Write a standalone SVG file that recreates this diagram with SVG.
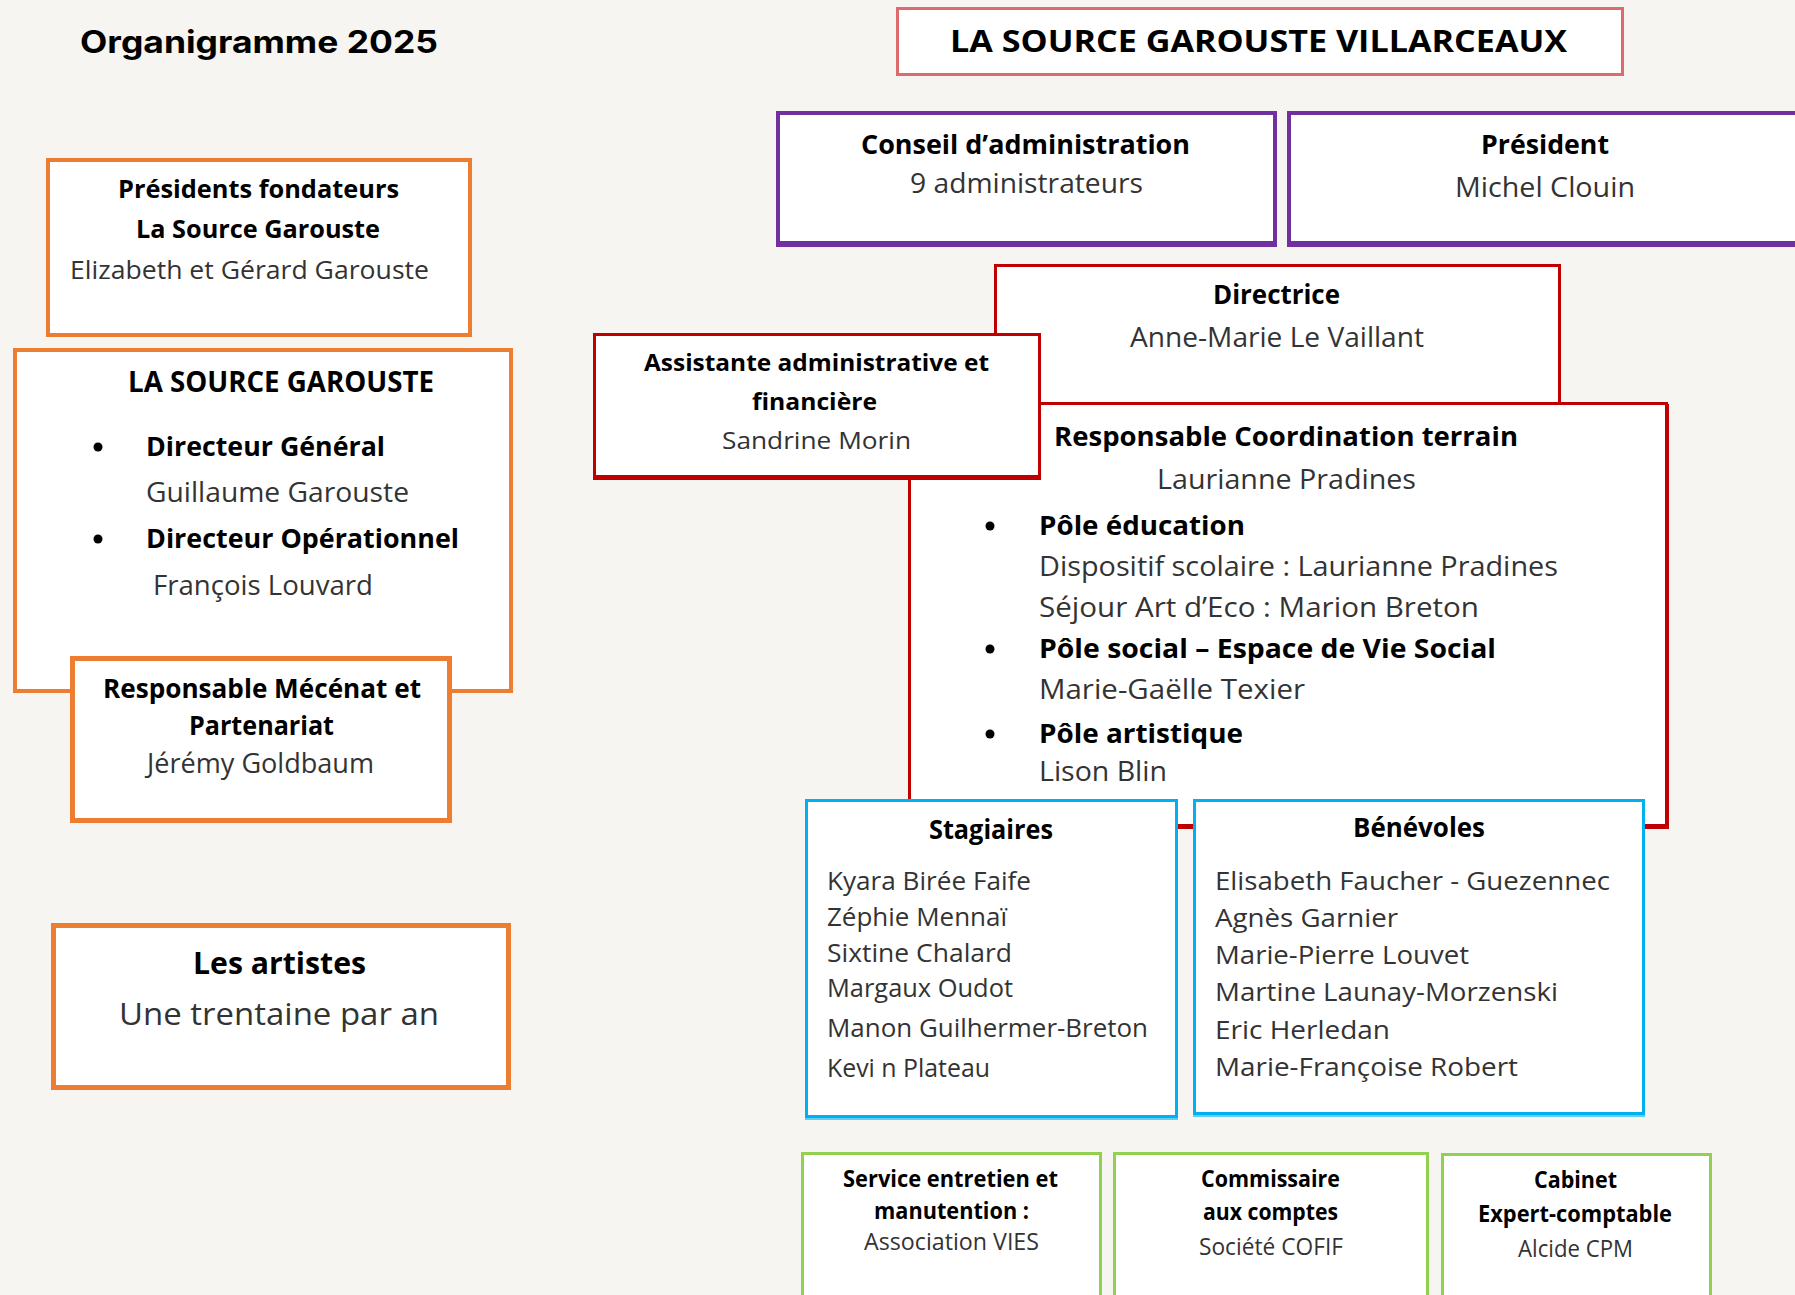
<svg xmlns="http://www.w3.org/2000/svg" width="1795" height="1295" viewBox="0 0 1795 1295">
<style>
.bg{fill:#f6f5f1}
.box{fill:#fff}
.or{stroke:#ed7d31;stroke-width:4}
.or5{stroke:#ed7d31;stroke-width:5}
.pu{stroke:#7030a0;stroke-width:4}
.rd{stroke:#c00000;stroke-width:3}
.pk{stroke:#dd6b6e;stroke-width:3}
.bl{stroke:#00b0f0;stroke-width:3}
.gr{stroke:#92d050;stroke-width:3}
.sh-pu{fill:none;stroke:#7030a0;stroke-width:4}
.sh-rd{fill:none;stroke:#c00000;stroke-width:3}
.sh-bl{fill:none;stroke:#5fcdf5;stroke-width:3}
text{font-family:"Open Sans","Noto Sans","Liberation Sans",sans-serif;fill:#333}
.b{font-weight:700;fill:#000}
.t{font-family:Inter,"DejaVu Sans",sans-serif;font-weight:700;font-size:31px;fill:#000}
.s23{font-size:23px}.s24{font-size:24px}.s25{font-size:25px}.s26{font-size:26px}.s27{font-size:27px}.s28{font-size:28px}.s30{font-size:30px}.s31{font-size:31px}
.dot{fill:#000}
</style>
<rect class="bg" x="0" y="0" width="1795" height="1295"/>

<text class="t" x="80" y="53" textLength="358" lengthAdjust="spacingAndGlyphs">Organigramme 2025</text>

<g id="connectors"></g>

<g id="villarceaux">
<rect class="box pk" x="897.5" y="8.5" width="725" height="66"/>
<text class="b s30" x="950" y="52" textLength="617" lengthAdjust="spacingAndGlyphs">LA SOURCE GAROUSTE VILLARCEAUX</text>
</g>

<g id="presidents-fondateurs">
<rect class="box or" x="48" y="160" width="422" height="175"/>
<text class="b s25" x="118" y="198" textLength="281" lengthAdjust="spacingAndGlyphs">Présidents fondateurs</text>
<text class="b s25" x="136" y="238" textLength="244" lengthAdjust="spacingAndGlyphs">La Source Garouste</text>
<text class="s25" x="70" y="279" textLength="359" lengthAdjust="spacingAndGlyphs">Elizabeth et Gérard Garouste</text>
</g>

<g id="la-source-garouste">
<rect class="box or" x="15" y="350" width="496" height="341"/>
<text class="b s28" x="128" y="392" textLength="306" lengthAdjust="spacingAndGlyphs">LA SOURCE GAROUSTE</text>
<circle class="dot" cx="98" cy="447" r="4.5"/>
<text class="b s27" x="146" y="456" textLength="239" lengthAdjust="spacingAndGlyphs">Directeur Général</text>
<text class="s27" x="146" y="502" textLength="263" lengthAdjust="spacingAndGlyphs">Guillaume Garouste</text>
<circle class="dot" cx="98" cy="539" r="4.5"/>
<text class="b s27" x="146" y="548" textLength="313" lengthAdjust="spacingAndGlyphs">Directeur Opérationnel</text>
<text class="s27" x="153" y="595" textLength="220" lengthAdjust="spacingAndGlyphs">François Louvard</text>
</g>

<g id="mecenat">
<rect class="box or5" x="72.5" y="658.5" width="377" height="162"/>
<text class="b s27" x="103" y="698" textLength="318" lengthAdjust="spacingAndGlyphs">Responsable Mécénat et</text>
<text class="b s27" x="189" y="735" textLength="145" lengthAdjust="spacingAndGlyphs">Partenariat</text>
<text class="s27" x="147" y="773" textLength="227" lengthAdjust="spacingAndGlyphs">Jérémy Goldbaum</text>
</g>

<g id="artistes">
<rect class="box or5" x="53.5" y="925.5" width="455" height="162"/>
<text class="b s30" x="193" y="974" textLength="173" lengthAdjust="spacingAndGlyphs">Les artistes</text>
<text class="s31" x="119" y="1025" textLength="320" lengthAdjust="spacingAndGlyphs">Une trentaine par an</text>
</g>

<g id="conseil">
<rect class="sh-pu" x="778" y="115" width="497" height="130"/>
<rect class="box pu" x="778" y="113" width="497" height="130"/>
<text class="b s27" x="861" y="154" textLength="329" lengthAdjust="spacingAndGlyphs">Conseil d’administration</text>
<text class="s27" x="910" y="193" textLength="233" lengthAdjust="spacingAndGlyphs">9 administrateurs</text>
</g>

<g id="president">
<rect class="sh-pu" x="1289" y="115" width="520" height="130"/>
<rect class="box pu" x="1289" y="113" width="520" height="130"/>
<text class="b s27" x="1481" y="154" textLength="128" lengthAdjust="spacingAndGlyphs">Président</text>
<text class="s27" x="1455" y="197" textLength="180" lengthAdjust="spacingAndGlyphs">Michel Clouin</text>
</g>

<g id="directrice">
<rect class="box rd" x="995.5" y="265.5" width="564" height="170"/>
<text class="b s26" x="1213" y="304" textLength="127" lengthAdjust="spacingAndGlyphs">Directrice</text>
<text class="s27" x="1130" y="347" textLength="294" lengthAdjust="spacingAndGlyphs">Anne-Marie Le Vaillant</text>
</g>

<g id="coordination">
<rect class="sh-rd" x="910.5" y="405.5" width="757" height="422"/>
<rect class="box rd" x="909.5" y="403.5" width="757" height="422"/>
<text class="b s27" x="1054" y="446" textLength="464" lengthAdjust="spacingAndGlyphs">Responsable Coordination terrain</text>
<text class="s27" x="1157" y="489" textLength="259" lengthAdjust="spacingAndGlyphs">Laurianne Pradines</text>
<circle class="dot" cx="990" cy="526" r="4.5"/>
<text class="b s27" x="1039" y="535" textLength="206" lengthAdjust="spacingAndGlyphs">Pôle éducation</text>
<text class="s27" x="1039" y="576" textLength="519" lengthAdjust="spacingAndGlyphs">Dispositif scolaire : Laurianne Pradines</text>
<text class="s27" x="1039" y="617" textLength="440" lengthAdjust="spacingAndGlyphs">Séjour Art d’Eco : Marion Breton</text>
<circle class="dot" cx="990" cy="649" r="4.5"/>
<text class="b s27" x="1039" y="658" textLength="457" lengthAdjust="spacingAndGlyphs">Pôle social – Espace de Vie Social</text>
<text class="s27" x="1039" y="699" textLength="266" lengthAdjust="spacingAndGlyphs">Marie-Gaëlle Texier</text>
<circle class="dot" cx="990" cy="734" r="4.5"/>
<text class="b s27" x="1039" y="743" textLength="204" lengthAdjust="spacingAndGlyphs">Pôle artistique</text>
<text class="s27" x="1039" y="781" textLength="128" lengthAdjust="spacingAndGlyphs">Lison Blin</text>
</g>

<g id="assistante">
<rect class="sh-rd" x="594.5" y="336.5" width="445" height="142"/>
<rect class="box rd" x="594.5" y="334.5" width="445" height="142"/>
<text class="b s24" x="644" y="371" textLength="345" lengthAdjust="spacingAndGlyphs">Assistante administrative et</text>
<text class="b s24" x="752" y="410" textLength="125" lengthAdjust="spacingAndGlyphs">financière</text>
<text class="s24" x="722" y="449" textLength="189" lengthAdjust="spacingAndGlyphs">Sandrine Morin</text>
</g>

<g id="stagiaires">
<rect class="sh-bl" x="806.5" y="803.5" width="370" height="315"/>
<rect class="box bl" x="806.5" y="800.5" width="370" height="316"/>
<text class="b s26" x="929" y="839" textLength="124" lengthAdjust="spacingAndGlyphs">Stagiaires</text>
<text class="s26" x="827" y="890" textLength="204" lengthAdjust="spacingAndGlyphs">Kyara Birée Faife</text>
<text class="s26" x="827" y="926" textLength="180" lengthAdjust="spacingAndGlyphs">Zéphie Mennaï</text>
<text class="s26" x="827" y="962" textLength="185" lengthAdjust="spacingAndGlyphs">Sixtine Chalard</text>
<text class="s26" x="827" y="997" textLength="186" lengthAdjust="spacingAndGlyphs">Margaux Oudot</text>
<text class="s26" x="827" y="1037" textLength="321" lengthAdjust="spacingAndGlyphs">Manon Guilhermer-Breton</text>
<text class="s26" x="827" y="1077" textLength="163" lengthAdjust="spacingAndGlyphs">Kevi n Plateau</text>
</g>

<g id="benevoles">
<rect class="sh-bl" x="1194.5" y="803.5" width="449" height="312"/>
<rect class="box bl" x="1194.5" y="800.5" width="449" height="313"/>
<text class="b s26" x="1353" y="837" textLength="132" lengthAdjust="spacingAndGlyphs">Bénévoles</text>
<text class="s26" x="1215" y="890" textLength="395" lengthAdjust="spacingAndGlyphs">Elisabeth Faucher - Guezennec</text>
<text class="s26" x="1215" y="927" textLength="183" lengthAdjust="spacingAndGlyphs">Agnès Garnier</text>
<text class="s26" x="1215" y="964" textLength="254" lengthAdjust="spacingAndGlyphs">Marie-Pierre Louvet</text>
<text class="s26" x="1215" y="1001" textLength="343" lengthAdjust="spacingAndGlyphs">Martine Launay-Morzenski</text>
<text class="s26" x="1215" y="1039" textLength="175" lengthAdjust="spacingAndGlyphs">Eric Herledan</text>
<text class="s26" x="1215" y="1076" textLength="303" lengthAdjust="spacingAndGlyphs">Marie-Françoise Robert</text>
</g>

<g id="service">
<rect class="box gr" x="802.5" y="1153.5" width="298" height="160"/>
<text class="b s23" x="843" y="1187" textLength="215" lengthAdjust="spacingAndGlyphs">Service entretien et</text>
<text class="b s23" x="874" y="1219" textLength="155" lengthAdjust="spacingAndGlyphs">manutention :</text>
<text class="s23" x="864" y="1250" textLength="175" lengthAdjust="spacingAndGlyphs">Association VIES</text>
</g>

<g id="commissaire">
<rect class="box gr" x="1114.5" y="1153.5" width="313" height="160"/>
<text class="b s23" x="1201" y="1187" textLength="139" lengthAdjust="spacingAndGlyphs">Commissaire</text>
<text class="b s23" x="1203" y="1220" textLength="135" lengthAdjust="spacingAndGlyphs">aux comptes</text>
<text class="s23" x="1199" y="1255" textLength="144" lengthAdjust="spacingAndGlyphs">Société COFIF</text>
</g>

<g id="cabinet">
<rect class="box gr" x="1442.5" y="1154.5" width="268" height="160"/>
<text class="b s23" x="1534" y="1188" textLength="83" lengthAdjust="spacingAndGlyphs">Cabinet</text>
<text class="b s23" x="1478" y="1222" textLength="194" lengthAdjust="spacingAndGlyphs">Expert-comptable</text>
<text class="s23" x="1518" y="1257" textLength="115" lengthAdjust="spacingAndGlyphs">Alcide CPM</text>
</g>
</svg>
